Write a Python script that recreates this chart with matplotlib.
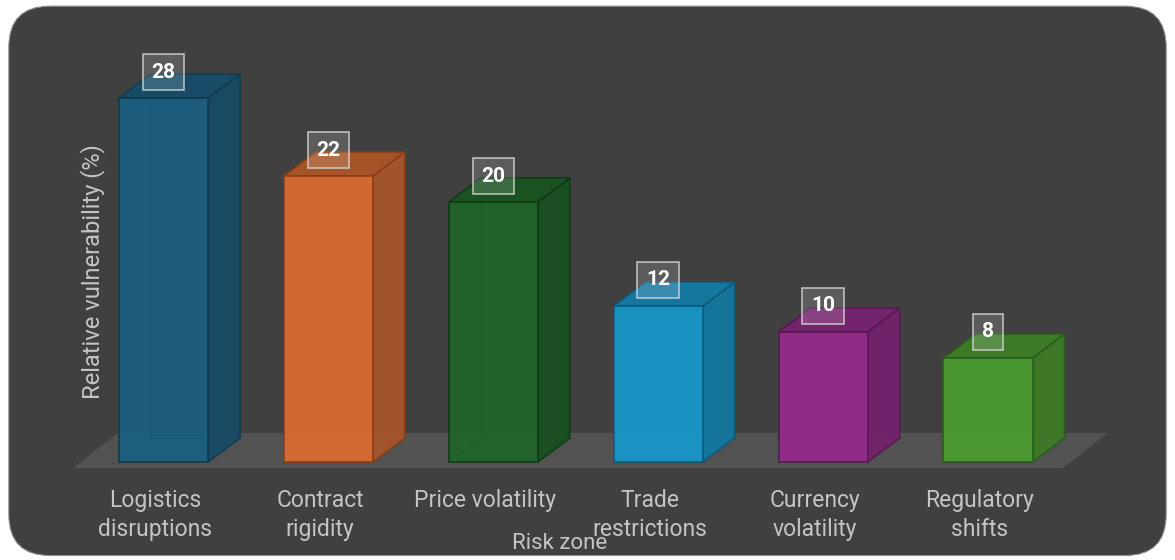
import matplotlib.pyplot as plt
from matplotlib.patches import Polygon, Rectangle, FancyBboxPatch
from matplotlib.transforms import offset_copy

# data
categories = ['Logistics\ndisruptions', 'Contract\nrigidity', 'Price volatility',
              'Trade\nrestrictions', 'Currency\nvolatility', 'Regulatory\nshifts']
values = [28, 22, 20, 12, 10, 8]
front_colors = ['#1b5e80', '#d96b30', '#1f6428', '#1897c9', '#932a89', '#4a9b30']
side_colors = ['#164b66', '#a8552a', '#185020', '#13789f', '#74226c', '#3b7b26']
top_colors = ['#164d69', '#ab5627', '#195421', '#147ba4', '#772370', '#3d7f28']
edge_colors = ['#0f3a50', '#8a3c14', '#0f3a14', '#0d5a7a', '#561850', '#2a5c1a']

plt.rcParams['font.family'] = ['Roboto', 'DejaVu Sans']

fig = plt.figure(figsize=(11.75, 5.6), dpi=100)
fig.patch.set_facecolor('white')

ax = fig.add_axes([0, 0, 1, 1])
ax.set_xlim(-0.9915, 6.134)
ax.set_ylim(-7.54, 35.54)
ax.axis('off')

# rounded dark background
ax.add_patch(FancyBboxPatch((0.0075, 0.008), 0.985, 0.981,
                            boxstyle='round,pad=0,rounding_size=0.035',
                            transform=ax.transAxes, mutation_aspect=2.1,
                            facecolor='#404040', edgecolor='#909090', lw=0.8, zorder=0))

w = 0.54
dx, dy = 0.194, 1.846

# floor
ax.add_patch(Polygon([(-0.549, -0.46), (5.455, -0.46), (5.728, 2.23), (-0.276, 2.23)],
                     closed=True, facecolor='#525252', edgecolor='none', zorder=1))

for i, v in enumerate(values):
    x0 = i - w / 2
    x1 = i + w / 2
    ec = edge_colors[i]
    # hidden back edges
    ax.plot([x0 + dx, x0 + dx], [dy, v + dy], color=ec, lw=0.8, alpha=0.6, zorder=2)
    ax.plot([x0 + dx, x1 + dx], [dy, dy], color=ec, lw=0.8, alpha=0.6, zorder=2)
    ax.plot([x0, x0 + dx], [0, dy], color=ec, lw=0.8, alpha=0.6, zorder=2)
    # side face
    ax.add_patch(Polygon([(x1, 0), (x1 + dx, dy), (x1 + dx, v + dy), (x1, v)], closed=True,
                         facecolor=side_colors[i], edgecolor=ec, lw=1.2, alpha=0.94, zorder=3))
    # top face
    ax.add_patch(Polygon([(x0, v), (x1, v), (x1 + dx, v + dy), (x0 + dx, v + dy)], closed=True,
                         facecolor=top_colors[i], edgecolor=ec, lw=1.2, alpha=0.95, zorder=3))
    # front face
    ax.add_patch(Rectangle((x0, 0), w, v, facecolor=front_colors[i], edgecolor=ec,
                           lw=1.2, alpha=0.95, zorder=4))
    # value label
    ax.text(i, v + 2, str(v), ha='center', va='center', color='white', fontsize=15,
            fontweight='bold', zorder=6,
            bbox=dict(boxstyle='square,pad=0.42', facecolor=(1, 1, 1, 0.15),
                      edgecolor=(0.85, 0.85, 0.85, 0.8), lw=1.2))

# category labels
lab_tr = offset_copy(ax.transData, fig=fig, x=-6, y=0, units='points')
for i, c in enumerate(categories):
    ax.text(i, -2.05, c, transform=lab_tr, ha='center', va='top', color='#c4c4c4',
            fontsize=16.5, linespacing=1.37)

ax.text(0.476, 0.03, 'Risk zone', transform=ax.transAxes, ha='center', va='center',
        color='#c4c4c4', fontsize=16)
ax.text(0.079, 0.515, 'Relative vulnerability (%)', transform=ax.transAxes, rotation=90,
        ha='center', va='center', color='#c4c4c4', fontsize=17)

fig.savefig('out.png', dpi=100, facecolor='white')
